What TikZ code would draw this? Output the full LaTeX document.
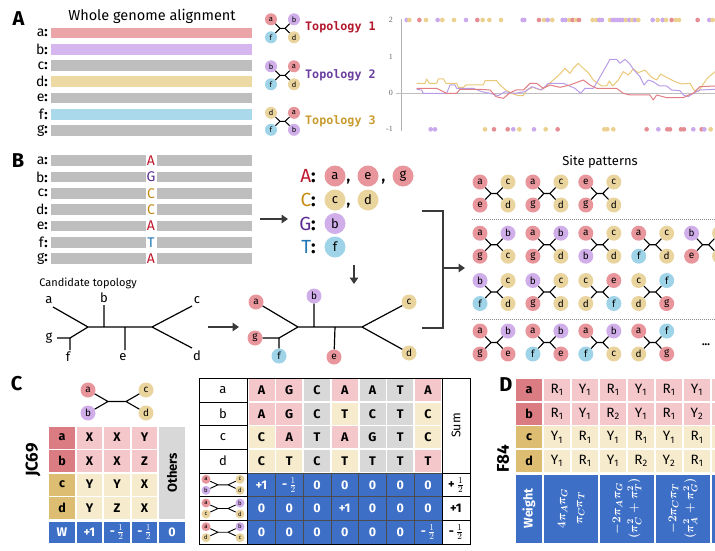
\documentclass[tikz,border=0pt]{standalone}
\usepackage{fontspec}
\setmainfont{Fira Sans}
\newfontfamily\topofont{DejaVu Sans Mono}
\newfontfamily\axisfont{Liberation Serif}
\usepackage{amsmath,amssymb}
\usetikzlibrary{arrows.meta,positioning}

\definecolor{lfred}{HTML}{E8959B}
\definecolor{lflav}{HTML}{CFAEEA}
\definecolor{lftan}{HTML}{EAD49E}
\definecolor{lfblue}{HTML}{9ED3E8}
\definecolor{barred}{HTML}{EBA5A8}
\definecolor{barlav}{HTML}{D5B6EF}
\definecolor{bargray}{HTML}{BEBEBE}
\definecolor{bartan}{HTML}{EDD9A3}
\definecolor{barblue}{HTML}{A9D9EB}
\definecolor{ntA}{HTML}{C0162B}
\definecolor{ntG}{HTML}{5B2C92}
\definecolor{ntC}{HTML}{C58B12}
\definecolor{ntT}{HTML}{2377B5}
\definecolor{topo1}{HTML}{B3172B}
\definecolor{topo2}{HTML}{6A3D9E}
\definecolor{topo3}{HTML}{C99A2E}
\definecolor{arrgray}{HTML}{3A3A3A}
\definecolor{cellp}{HTML}{F4C7CB}
\definecolor{cellc}{HTML}{F6EBCD}
\definecolor{cellg}{HTML}{D8D8D8}
\definecolor{labr}{HTML}{DB7C83}
\definecolor{labt}{HTML}{DDBD72}
\definecolor{wblue}{HTML}{3D6FC6}
\definecolor{dotr}{HTML}{E58D93}
\definecolor{dott}{HTML}{EBD08F}
\definecolor{dotl}{HTML}{CAA9EC}
\definecolor{linr}{HTML}{E07E84}
\definecolor{lint}{HTML}{E9C878}
\definecolor{linl}{HTML}{B99CE8}

\newcommand\hlf{$\frac{1}{2}$}
\newcommand\jx{3}
% four leaves joined by a short inner branch
\newcommand\quartet[9]{%
  \node[qleaf, leaf#6] (#1tl) at ({#2-#4},{#3-#5}) {#6};
  \node[qleaf, leaf#7] (#1tr) at ({#2+#4},{#3-#5}) {#7};
  \node[qleaf, leaf#8] (#1bl) at ({#2-#4},{#3+#5}) {#8};
  \node[qleaf, leaf#9] (#1br) at ({#2+#4},{#3+#5}) {#9};
  \coordinate (#1l) at ({#2-\jx},#3);
  \coordinate (#1r) at ({#2+\jx},#3);
  \draw[qbranch] (#1tl) -- (#1l) -- (#1r) -- (#1tr) (#1bl) -- (#1l) (#1r) -- (#1br);
}

\tikzset{
  plab/.style={font=\fontsize{20}{20}\selectfont\bfseries},
  rowlab/.style={anchor=east, inner sep=0pt, font=\fontsize{14}{14}\selectfont},
  bar/.style={anchor=west, inner sep=0pt, minimum height=10.7pt},
  leaf/.style={circle, inner sep=0pt, minimum size=15pt, font=\fontsize{10}{10}\selectfont},
  bigleaf/.style={leaf, minimum size=21pt, font=\fontsize{13}{13}\selectfont},
  leafa/.style={fill=lfred}, leafb/.style={fill=lflav}, leafc/.style={fill=lftan},
  leafd/.style={fill=lftan}, leafe/.style={fill=lfred}, leaff/.style={fill=lfblue},
  leafg/.style={fill=lfred},
  qleaf/.style={leaf},
  qbranch/.style={line width=1.1pt},
  branch/.style={line width=1.2pt},
  bigarrow/.style={draw=arrgray, line width=2.4pt, -{Triangle[length=6.5pt,width=8.5pt]}},
  axl/.style={anchor=east, inner sep=0pt, text=black!60, font=\axisfont\fontsize{8}{8}\selectfont},
  cell/.style={inner sep=0pt, minimum width=26pt, minimum height=22pt, font=\fontsize{12.5}{12.5}\selectfont\bfseries},
  bcell/.style={cell, fill=wblue, text=white, draw=black!70, line width=0.4pt, minimum width=27.75pt, minimum height=23.7pt},
  allele/.style={anchor=east, inner sep=0pt, font=\fontsize{19}{19}\selectfont},
  wtext/.style={rotate=90, text=white, align=center, font=\fontsize{12.5}{16}\selectfont\boldmath},
}

\begin{document}
\begin{tikzpicture}[x=1pt,y=-1pt]
\useasboundingbox (0,0) rectangle (715,550);
\clip (0,0) rectangle (715,550);

\node[plab] (pA) at (18.5,19) {A};
\node[plab] (pB) at (18,161) {B};
\node[plab] (pC) at (16.5,384) {C};
\node[plab] (pD) at (506,385) {D};

% A
\node (wga) at (152,16.5) [font=\fontsize{14.5}{14.5}\selectfont] {Whole genome alignment};
\foreach \n/\cl [count=\i from 0] in {a/barred,b/barlav,c/bargray,d/bartan,e/bargray,f/barblue,g/bargray}{
  \node[rowlab] (rA\n) at (48,33+16.25*\i) {\n\textbf{:}};
  \node[bar, fill=\cl, minimum width=201pt] (bA\n) at (51,33+16.25*\i) {};
}

\renewcommand\jx{2.5}
\begin{scope}[qleaf/.style={leaf, minimum size=12pt, font=\fontsize{7.5}{7.5}\selectfont}, qbranch/.style={line width=1pt}]
\quartet{tpa}{282.5}{28.3}{11.5}{9}{a}{b}{f}{d}
\quartet{tpb}{282.5}{75.3}{11.5}{9}{b}{a}{f}{d}
\quartet{tpc}{282.5}{121.3}{11.5}{8.5}{d}{a}{f}{b}
\end{scope}
\node (tt1) at (305,27) [anchor=west, inner sep=0pt, text=topo1, font=\topofont\bfseries\fontsize{11.7}{12}\selectfont] {Topology 1};
\node (tt2) at (305,75) [anchor=west, inner sep=0pt, text=topo2, font=\topofont\bfseries\fontsize{11.7}{12}\selectfont] {Topology 2};
\node (tt3) at (305,121) [anchor=west, inner sep=0pt, text=topo3, font=\topofont\bfseries\fontsize{11.7}{12}\selectfont] {Topology 3};

\node[axl] (y2) at (393,20) {2};
\node[axl] (y1) at (393,56.7) {1};
\node[axl] (y0) at (393,93.3) {0};
\node[axl] (ym) at (393,129.3) {-1};
\draw[black!30, line width=0.6pt] (401,19) -- (401,131);
\draw[black!25, line width=0.6pt] (396,93.3) -- (715,93.3);
\begin{scope}[shift={(390,0)}, scale=0.3333]
\draw[lint, line width=1pt, line join=round] plot coordinates {(80,250)(105,250)(110,237)(118,250)(140,250)(145,237)(160,237)(168,250)(200,250)(205,262)(220,262)(228,255)(280,255)(285,242)(320,242)(330,255)(345,268)(365,280)(385,287)(400,287)(410,270)(430,262)(450,270)(470,258)(490,240)(510,222)(525,205)(540,220)(550,205)(565,190)(580,205)(595,218)(610,240)(635,258)(650,258)(658,243)(668,258)(685,240)(700,215)(715,225)(730,207)(745,218)(765,210)(785,232)(800,240)(812,222)(835,235)(855,245)(875,252)(900,250)(912,270)(925,275)(938,255)(952,235)(975,215)};
\draw[linl, line width=1pt, line join=round] plot coordinates {(80,268)(95,270)(100,280)(170,280)(180,255)(195,255)(200,265)(250,265)(275,275)(300,280)(325,287)(345,275)(375,280)(405,275)(425,260)(455,270)(475,250)(520,250)(555,265)(572,280)(585,265)(610,265)(625,240)(645,205)(660,178)(680,178)(690,190)(705,178)(718,190)(732,210)(750,230)(762,255)(775,240)(790,245)(808,258)(830,258)(845,270)(870,272)(880,285)(895,290)(910,280)(930,270)(975,268)};
\draw[linr, line width=1pt, line join=round] plot coordinates {(80,265)(140,265)(170,280)(200,280)(210,268)(270,268)(300,270)(318,290)(340,295)(358,280)(378,270)(400,270)(420,250)(440,250)(460,265)(480,255)(510,262)(540,255)(580,240)(600,255)(620,265)(680,265)(700,280)(720,285)(780,285)(790,300)(800,285)(830,293)(880,293)(900,283)(910,280)(930,260)(975,258)};
\foreach \X/\cl in {50/l,58/t,88/r,108/t,143/l,157/t,192/t,228/l,262/r,278/t,298/t,333/t,398/l,403/l,447/r,462/t,473/l,487/t,518/l,527/l,538/t,548/r,558/t,567/r,608/t,620/t,628/l,636/l,660/t,668/l,675/l,683/l,690/l,698/l,708/t,718/l,727/t,735/l,745/t,788/l,803/t,818/l,828/t,845/r,858/t,867/t,923/r,958/l,968/t}
  \fill[dot\cl] (\X,60) circle (7);
\foreach \X/\cl in {122/l,135/l,285/t,312/r,353/r,370/l,388/t,432/l,467/t,503/r,643/t,652/t,670/t,770/r,805/l,832/r,840/r,873/r,882/r,910/l,935/r,943/l,962/t}
  \fill[dot\cl] (\X,388) circle (7);
\end{scope}

% B
\foreach \n/\b/\cl [count=\i from 0] in {a/A/ntA,b/G/ntG,c/C/ntC,d/C/ntC,e/A/ntA,f/T/ntT,g/A/ntA}{
  \node[rowlab] (rB\n) at (48,160.5+16.37*\i) {\n\textbf{:}};
  \node[bar, fill=bargray, minimum width=94.5pt] (bBl\n) at (51,160.5+16.37*\i) {};
  \node[bar, fill=bargray, minimum width=95.5pt] (bBr\n) at (156.5,160.5+16.37*\i) {};
  \node (sB\n) at (151,160.5+16.37*\i) [inner sep=0pt, text=\cl, font=\fontsize{14}{14}\selectfont] {\b};
}
\coordinate (aB1) at (260,219);
\coordinate (aB2) at (288,219);
\draw[bigarrow] (aB1) -- (aB2);

\node[allele] (lA) at (316,176) {\textcolor{ntA}{A}\textbf{:}};
\node[allele] (lC) at (316,200) {\textcolor{ntC}{C}\textbf{:}};
\node[allele] (lG) at (316,223.5) {\textcolor{ntG}{G}\textbf{:}};
\node[allele] (lT) at (316,247) {\textcolor{ntT}{T}\textbf{:}};
\node[bigleaf, leafa] (la1) at (335,176) {a};
\node[bigleaf, leafe] (la2) at (368,176) {e};
\node[bigleaf, leafg] (la3) at (403,176) {g};
\node[bigleaf, leafc] (lc1) at (335,200) {c};
\node[bigleaf, leafd] (lc2) at (368,200) {d};
\node[bigleaf, leafb] (lg1) at (335,223.5) {b};
\node[bigleaf, leaff] (lt1) at (335,247) {f};
\node (cm1) at (348.5,182) [inner sep=0pt, font=\fontsize{15}{15}\selectfont\bfseries] {,};
\node (cm2) at (383.5,182) [inner sep=0pt, font=\fontsize{15}{15}\selectfont\bfseries] {,};
\node (cm3) at (348.5,206) [inner sep=0pt, font=\fontsize{15}{15}\selectfont\bfseries] {,};
\coordinate (aB3) at (354,265);
\coordinate (aB4) at (354,284);
\draw[bigarrow] (aB3) -- (aB4);

% candidate topology
\node (cand) at (88,283) [font=\fontsize{11}{11}\selectfont] {Candidate topology};
\coordinate (k1) at (88,327);
\coordinate (k2) at (104,327);
\coordinate (k3) at (125,327);
\coordinate (k4) at (152,327);
\coordinate (kgf) at (70,338);
\coordinate (ea) at (53,307);
\coordinate (eb) at (104,305);
\coordinate (ec) at (192,306);
\coordinate (ed) at (192,348);
\coordinate (ee) at (125,350);
\coordinate (ef) at (70,350);
\coordinate (eg) at (57,338);
\draw[branch] (ea) -- (k1) -- (k4) -- (ec) (k4) -- (ed) (eb) -- (k2) (k3) -- (ee) (k1) -- (kgf) -- (eg) (kgf) -- (ef);
\node (ta) at (49,300) [font=\fontsize{13}{13}\selectfont] {a};
\node (tb) at (104,298) [font=\fontsize{13}{13}\selectfont] {b};
\node (tc) at (197,300) [font=\fontsize{13}{13}\selectfont] {c};
\node (td) at (197,356) [font=\fontsize{13}{13}\selectfont] {d};
\node (te) at (123,357) [font=\fontsize{13}{13}\selectfont] {e};
\node (tf) at (68,357) [font=\fontsize{13}{13}\selectfont] {f};
\node (tg) at (49,338) [font=\fontsize{13}{13}\selectfont] {g};
\coordinate (aB5) at (208,327);
\coordinate (aB6) at (239,327);
\draw[bigarrow] (aB5) -- (aB6);

% coloured tree
\node[leaf, leafa] (ca) at (256,302) {a};
\node[leaf, leafb] (cb) at (314,296) {b};
\node[leaf, leafc] (cc) at (409,302) {c};
\node[leaf, leafd] (cd) at (409,353) {d};
\node[leaf, leafe] (ce) at (334,357) {e};
\node[leaf, leaff] (cf) at (279,356) {f};
\node[leaf, leafg] (cg) at (255,338) {g};
\coordinate (j1) at (298,327);
\coordinate (j2) at (314,327);
\coordinate (j3) at (335,327);
\coordinate (j4) at (362,327);
\coordinate (jgf) at (279,338);
\draw[branch] (ca) -- (j1) -- (j4) -- (cc) (j4) -- (cd) (cb) -- (j2) (j3) -- (ce) (j1) -- (jgf) -- (cg) (jgf) -- (cf);

% bracket to site patterns
\coordinate (br1) at (422,211);
\coordinate (br2) at (443,211);
\coordinate (br3) at (443,328);
\coordinate (br4) at (422,328);
\draw[draw=arrgray, line width=2.6pt] (br1) -- (br2) -- (br3) -- (br4);
\coordinate (br5) at (443,268);
\coordinate (br6) at (465,268);
\draw[bigarrow] (br5) -- (br6);

% site patterns
\node (sp) at (600,162) [font=\fontsize{13}{13}\selectfont] {Site patterns};
\renewcommand\jx{3}
\begin{scope}[qbranch/.style={line width=1.1pt}]
\foreach \p/\q/\r/\s [count=\i from 0] in {a/c/e/d,a/c/g/d,e/c/g/d}
  {\quartet{sa\i}{494+52.9*\i}{193.5}{14}{11.5}{\p}{\q}{\r}{\s}}
\foreach \p/\q/\r/\s [count=\i from 0] in {a/b/g/c,a/b/g/d,a/c/b/d,a/c/f/d}
  {\quartet{sb\i}{494+52.9*\i}{244.7}{14}{11.5}{\p}{\q}{\r}{\s}}
\foreach \p/\q/\r/\s [count=\i from 0] in {b/c/f/d,b/c/g/d,c/e/d/f,c/f/d/g}
  {\quartet{sc\i}{494+52.9*\i}{292}{14}{11.5}{\p}{\q}{\r}{\s}}
\foreach \p/\q/\r/\s [count=\i from 0] in {a/b/g/e,a/b/f/e,a/b/f/c,a/f/d/g}
  {\quartet{sd\i}{494+52.9*\i}{342.5}{14}{11.5}{\p}{\q}{\r}{\s}}
% last one runs off the edge
\node[qleaf, leafb] (sb4tl) at (691.6,233.2) {b};
\node[qleaf, leafc] (sb4tr) at (719.6,233.2) {};
\node[qleaf, leafe] (sb4bl) at (691.6,256.2) {e};
\node[qleaf, leafd] (sb4br) at (719.6,256.2) {};
\coordinate (sb4l) at (702.6,244.7);
\coordinate (sb4r) at (708.6,244.7);
\draw[qbranch] (sb4tl) -- (sb4l) -- (sb4r) -- (sb4tr) (sb4bl) -- (sb4l) (sb4r) -- (sb4br);
\end{scope}
\draw[black!45, line width=1pt, densely dotted] (472,219) -- (715,219);
\draw[black!45, line width=1pt, densely dotted] (472,319) -- (715,319);
\node (more) at (706,345) [font=\fontsize{11}{11}\selectfont\bfseries] {...};

% C: JC69
\renewcommand\jx{9}
\quartet{jq}{117}{401.5}{29}{11.5}{a}{c}{b}{d}
\node (jc) at (33,460) [rotate=90, font=\fontsize{17}{17}\selectfont\bfseries] {JC69};
\foreach \lab/\lc/\cc/\p/\q/\s [count=\i from 0] in {a/labr/cellp/X/X/Y,b/labr/cellp/X/X/Z,c/labt/cellc/Y/Y/X,d/labt/cellc/Y/Z/X}{
  \node[cell, fill=\lc, minimum width=25.5pt] (jl\lab) at (62,437.5+23.5*\i) {\lab};
  \node[cell, fill=\cc, minimum width=25.5pt] (jx\lab1) at (89.5,437.5+23.5*\i) {\p};
  \node[cell, fill=\cc, minimum width=25.5pt] (jx\lab2) at (117,437.5+23.5*\i) {\q};
  \node[cell, fill=\cc, minimum width=25.5pt] (jx\lab3) at (144.5,437.5+23.5*\i) {\s};
}
\node[cell, fill=cellg, minimum width=25.5pt, minimum height=92.5pt] (jo) at (172,472.75) {};
\node (jot) at (jo) [rotate=90, font=\fontsize{13}{13}\selectfont\bfseries] {Others};
\foreach \v/\x [count=\i from 0] in {W/62,+1/89.5,-\,\hlf/117,-\,\hlf/144.5,0/172}
  \node[cell, fill=wblue, text=white, minimum width=25.5pt, minimum height=21.5pt] (jw\i) at (\x,532.5) {\v};

% C: alignment table
\foreach \lab/\rowdata [count=\i from 0] in {a/{A/p,G/p,C/g,A/p,A/g,T/g,A/p},b/{A/p,G/p,C/g,T/c,C/g,T/g,C/c},c/{C/c,A/p,T/g,A/p,G/g,T/g,C/c},d/{C/c,T/c,C/g,T/c,T/g,T/g,T/p}}{
  \node[cell, font=\fontsize{13}{13}\selectfont] (mt\lab) at (223,390+23.7*\i) {\lab};
  \foreach \nt/\cl [count=\j from 0] in \rowdata
    \node[cell, fill=cell\cl] (mt\lab\j) at (261.5+27.75*\j,390+23.7*\i) {\nt};
}
\foreach \rowdata/\sm [count=\i from 4] in {{+1,-\,\hlf,0,0,0,0,0}/{+\,\hlf},{0,0,0,+1,0,0,0}/{+1},{0,0,0,0,0,0,-\,\hlf}/{-\,\hlf}}{
  \foreach \v [count=\j from 0] in \rowdata
    \node[bcell] (mb\i\j) at (261.5+27.75*\j,390+23.7*\i) {\v};
  \node[cell] (ms\i) at (456,390+23.7*\i) {\sm};
}
\renewcommand\jx{5}
\begin{scope}[qleaf/.style={leaf, minimum size=9pt, font=\fontsize{6}{6}\selectfont}, qbranch/.style={line width=0.9pt}]
\quartet{mqa}{223}{484.8}{17}{5.5}{a}{c}{b}{d}
\quartet{mqb}{223}{508.5}{17}{5.5}{a}{b}{c}{d}
\quartet{mqc}{223}{532.2}{17}{5.5}{a}{b}{d}{c}
\end{scope}
\node (msum) at (456,425.5) [rotate=90, font=\fontsize{12.5}{12.5}\selectfont] {Sum};
\draw[line width=0.8pt] (199,378.15) rectangle (470,544.05);
\draw (247.6,378.15) -- (247.6,544.05) (441.9,378.15) -- (441.9,544.05);
\foreach \k in {1,...,6} \draw (199,378.15+23.7*\k) -- (247.6,378.15+23.7*\k);
\foreach \k in {4,5,6} \draw (441.9,378.15+23.7*\k) -- (470,378.15+23.7*\k);

% D: F84
\node (f84) at (503,459) [rotate=90, font=\fontsize{17}{17}\selectfont\bfseries] {F84};
\foreach \lab/\lc/\cc/\rowdata [count=\i from 0] in {a/labr/cellp/{R/1,Y/1,R/1,Y/1,R/1,Y/1},b/labr/cellp/{R/1,Y/1,R/2,Y/1,R/1,Y/2},c/labt/cellc/{Y/1,R/1,Y/1,R/1,Y/1,R/1},d/labt/cellc/{Y/1,R/1,Y/1,R/2,Y/2,R/1}}{
  \node[cell, fill=\lc] (dl\lab) at (529,390+23.7*\i) {\lab};
  \foreach \bs/\ix [count=\j from 0] in \rowdata
    \node[cell, fill=\cc, font=\fontsize{13.5}{13.5}\selectfont] (dt\lab\j) at (557+28*\j,390+23.7*\i) {\bs\textsubscript{\ix}};
  \node[cell, fill=\cc] (dt\lab6) at (725,390+23.7*\i) {};
}
\node[cell, fill=wblue, minimum height=68pt] (dw0) at (529,508.5) {};
\node (dwt) at (dw0) [rotate=90, text=white, font=\fontsize{12.5}{12.5}\selectfont\bfseries] {Weight};
\node[cell, fill=wblue, minimum width=54pt, minimum height=68pt] (dw1) at (571,508.5) {};
\node[cell, fill=wblue, minimum width=54pt, minimum height=68pt] (dw2) at (627,508.5) {};
\node[cell, fill=wblue, minimum width=54pt, minimum height=68pt] (dw3) at (683,508.5) {};
\node[cell, fill=wblue, minimum width=54pt, minimum height=68pt] (dw4) at (739,508.5) {};
\node[wtext] (dwa) at (dw1) {$4\pi_A\pi_G$\\[1pt]$\pi_C\pi_T$};
\node[wtext] (dwb) at (dw2) {$-2\pi_A\pi_G$\\[1pt]$(\pi_C^2+\pi_T^2)$};
\node[wtext] (dwc) at (dw3) {$-2\pi_C\pi_T$\\[1pt]$(\pi_A^2+\pi_G^2)$};
\end{tikzpicture}
\end{document}
